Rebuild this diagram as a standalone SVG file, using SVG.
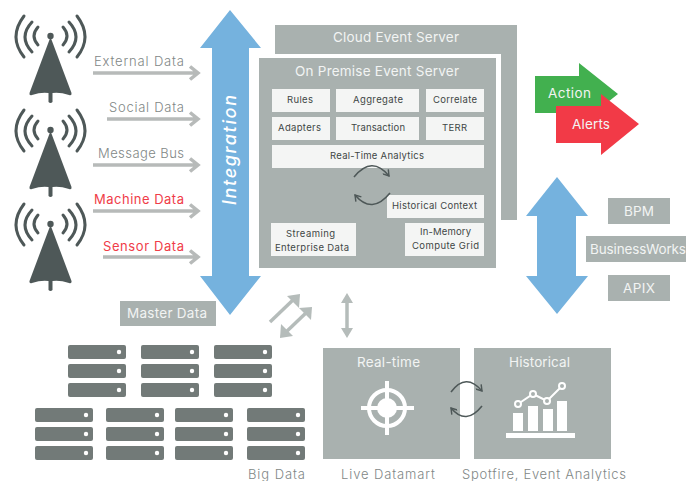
<svg xmlns="http://www.w3.org/2000/svg" width="686" height="481" viewBox="0 0 686 481">
<style>
text{font-family:"Inter","Liberation Sans",sans-serif;font-weight:300}
.g{fill:#a9b1af}.w{fill:#f4f5f4}.b{fill:#75b2de}
.l{font-size:13px;fill:#7f8786}
.r{font-size:13px;fill:#f03c48;font-weight:400}
.h{font-size:13.500px;fill:#f2f4f3;font-weight:400}
.s{font-size:9.500px;fill:#3f4746;font-weight:400}
.i{font-size:18px;font-style:italic;fill:#fff;font-weight:500;text-anchor:middle}
.da{fill:none;stroke:#b7bab9;stroke-width:3.500}
.sa{fill:none;stroke:#b5bcba;stroke-width:3.500}
.ah{fill:#b5bcba}
.cy{fill:none;stroke:#4e5858;stroke-width:1.600}
.tw{fill:none;stroke:#4e5858;stroke-width:3;stroke-linecap:round}
.sv{fill:#727a78}.dot{fill:#fff}
</style>
<defs>
<marker id="ch" viewBox="0 0 10 10" refX="8" refY="5" markerWidth="5" markerHeight="5" orient="auto-start-reverse"><path d="M1 0.500 8 5 1 9.500" fill="none" stroke="#4e5858" stroke-width="1.800"/></marker>
<g id="tower">
<path class="tw" d="M38 27Q30 36 38 45M32 22Q18 37 32 52M24 16Q8 37 24 57M63 27Q71 36 63 45M69 22Q83 37 69 52M77 16Q93 37 77 57"/>
<circle cx="50.500" cy="36" r="3.200" fill="#4e5858"/>
<path fill="#4e5858" d="M50.500 37 71.500 93Q72 96 69 95Q60 92 52.500 93V102Q50.500 104 48.500 102V93Q41 92 32 95Q29 96 29.500 93Z"/>
</g>
<g id="srv"><rect width="58" height="14" rx="2" class="sv"/><circle cx="51" cy="7" r="2.200" class="dot"/></g>
<g id="stack"><use href="#srv"/><use href="#srv" y="19"/><use href="#srv" y="38"/></g>
</defs>
<rect width="686" height="481" fill="#fff"/>

<g id="towers"><use href="#tower"/><use href="#tower" y="94"/><use href="#tower" y="188"/></g>

<g id="integration">
<path class="b" d="M230 10 261 48H249V276H261L230 315 200 276H212V48H200Z"/>
<text class="i" transform="translate(236 150) rotate(-90)" textLength="110">Integration</text>
</g>

<g id="external-data"><text class="l" x="94" y="66" textLength="90">External Data</text></g>
<g id="social-data"><text class="l" x="109" y="112" textLength="75">Social Data</text></g>
<g id="message-bus"><text class="l" x="98" y="158" textLength="86">Message Bus</text></g>
<g id="machine-data"><text class="r" x="94" y="204" textLength="90">Machine Data</text></g>
<g id="sensor-data"><text class="r" x="103" y="251" textLength="81">Sensor Data</text></g>

<g id="cloud-event-server">
<path class="g" d="M275 25H517V220H501V54H275Z"/>
<text class="h" x="333" y="42" textLength="126">Cloud Event Server</text>
</g>
<g id="on-premise-event-server">
<rect class="g" x="259" y="58" width="237" height="210"/>
<text class="h" x="295" y="76" textLength="164">On Premise Event Server</text>
</g>
<g id="rules"><rect class="w" x="272" y="89" width="58" height="23"/><text class="s" x="287" y="103" textLength="26">Rules</text></g>
<g id="aggregate"><rect class="w" x="336" y="89" width="83" height="23"/><text class="s" x="353" y="103" textLength="50">Aggregate</text></g>
<g id="correlate"><rect class="w" x="426" y="89" width="58" height="23"/><text class="s" x="433" y="103" textLength="44">Correlate</text></g>
<g id="adapters"><rect class="w" x="272" y="117" width="58" height="23"/><text class="s" x="278" y="131" textLength="43">Adapters</text></g>
<g id="transaction"><rect class="w" x="336" y="117" width="83" height="23"/><text class="s" x="351" y="131" textLength="54">Transaction</text></g>
<g id="terr"><rect class="w" x="426" y="117" width="58" height="23"/><text class="s" x="442" y="131" textLength="25">TERR</text></g>
<g id="real-time-analytics"><rect class="w" x="272" y="145" width="212" height="23"/><text class="s" x="330" y="159" textLength="94">Real-Time Analytics</text></g>
<g id="historical-context"><rect class="w" x="387" y="195" width="97" height="23"/><text class="s" x="392" y="209" textLength="85">Historical Context</text></g>
<g id="streaming"><rect class="w" x="271" y="223" width="85" height="33"/><text class="s" x="286" y="237" textLength="49">Streaming</text><text class="s" x="275" y="251" textLength="74">Enterprise Data</text></g>
<g id="compute-grid"><rect class="w" x="405" y="223" width="79" height="33"/><text class="s" x="420" y="235" textLength="51">In-Memory</text><text class="s" x="412" y="249" textLength="67">Compute Grid</text></g>

<g id="action"><path fill="#42b04f" d="M535 76H579V63L618 94 579 125V113H535Z"/><text class="h" x="548" y="98" textLength="43">Action</text></g>
<g id="alerts"><path fill="#f23a47" d="M556 106H601V94L639 124 601 155V143H556Z"/><text class="h" x="572" y="129" textLength="38">Alerts</text></g>

<g id="delivery"><path class="b" d="M557 177 588 216H576V276H588L557 314 526 276H537V216H526Z"/></g>
<g id="bpm"><rect class="g" x="608" y="198" width="62" height="26"/><text class="h" x="624" y="216" textLength="30">BPM</text></g>
<g id="businessworks"><rect class="g" x="586" y="236" width="100" height="26"/><text class="h" x="590" y="254" textLength="96">BusinessWorks</text></g>
<g id="apix"><rect class="g" x="608" y="275" width="62" height="26"/><text class="h" x="623" y="293" textLength="32">APIX</text></g>
<g id="master-data"><rect class="g" x="120" y="301" width="96" height="25"/><text class="h" x="127" y="318" textLength="80">Master Data</text></g>

<g id="big-data">
<use href="#stack" x="68" y="345"/><use href="#stack" x="141" y="345"/><use href="#stack" x="214" y="345"/>
<use href="#stack" x="35" y="408"/><use href="#stack" x="106" y="408"/><use href="#stack" x="175" y="408"/><use href="#stack" x="247" y="408"/>
<text class="l" x="248" y="479" textLength="57">Big Data</text>
</g>

<g id="real-time">
<rect class="g" x="323" y="348" width="137" height="111"/>
<text class="h" x="357" y="367" textLength="63">Real-time</text>
<circle cx="387" cy="408" r="18" fill="none" stroke="#fff" stroke-width="4"/>
<circle cx="387" cy="408" r="10" fill="#fff"/>
<path d="M361 408H414M387 381V435" stroke="#fff" stroke-width="4" fill="none"/>
<text class="l" x="341" y="479" textLength="94">Live Datamart</text>
</g>

<g id="historical">
<rect class="g" x="474" y="348" width="137" height="111"/>
<text class="h" x="509" y="367" textLength="61">Historical</text>
<path fill="#fff" d="M513 413H523V431H513ZM528 406H538V431H528ZM543 409H553V431H543ZM557 401H567V431H557ZM506 433H575V438H506Z"/>
<path d="M518 404 533 394 547 401 562 386" fill="none" stroke="#fff" stroke-width="2"/>
<g fill="#a9b1af" stroke="#fff" stroke-width="2"><circle cx="518" cy="404" r="3"/><circle cx="533" cy="394" r="3"/><circle cx="547" cy="401" r="3"/><circle cx="562" cy="386" r="3"/></g>
<text class="l" x="462" y="479" textLength="164">Spotfire, Event Analytics</text>
</g>

<g id="connectors">
<path class="da" d="M93 73H198M190 66.500 198 73 190 79.500"/>
<path class="da" d="M107 119H198M190 112.500 198 119 190 125.500"/>
<path class="da" d="M93 165H198M190 158.500 198 165 190 171.500"/>
<path class="da" d="M93 211H198M190 204.500 198 211 190 217.500"/>
<path class="da" d="M103 257H198M190 250.500 198 257 190 263.500"/>
<path class="sa" d="M270 322 294 299"/><path class="ah" d="M300 294 299 308 287 296Z"/>
<path class="sa" d="M285 333 308 311"/><path class="ah" d="M280 338 281 324 293 336Z"/><path class="ah" d="M312 307 311 320 299 308Z"/>
<path class="sa" d="M347 298V333"/><path class="ah" d="M347 293 353 303H341Z"/><path class="ah" d="M347 338 341 328H353Z"/>
<path class="cy" marker-end="url(#ch)" d="M354 177Q372 155 389 176"/>
<path class="cy" marker-end="url(#ch)" d="M390 193Q372 215 355 195"/>
<path class="cy" marker-end="url(#ch)" d="M451 392Q466 372 482 391"/>
<path class="cy" marker-end="url(#ch)" d="M482 406Q466 426 451 408"/>
</g>
</svg>
